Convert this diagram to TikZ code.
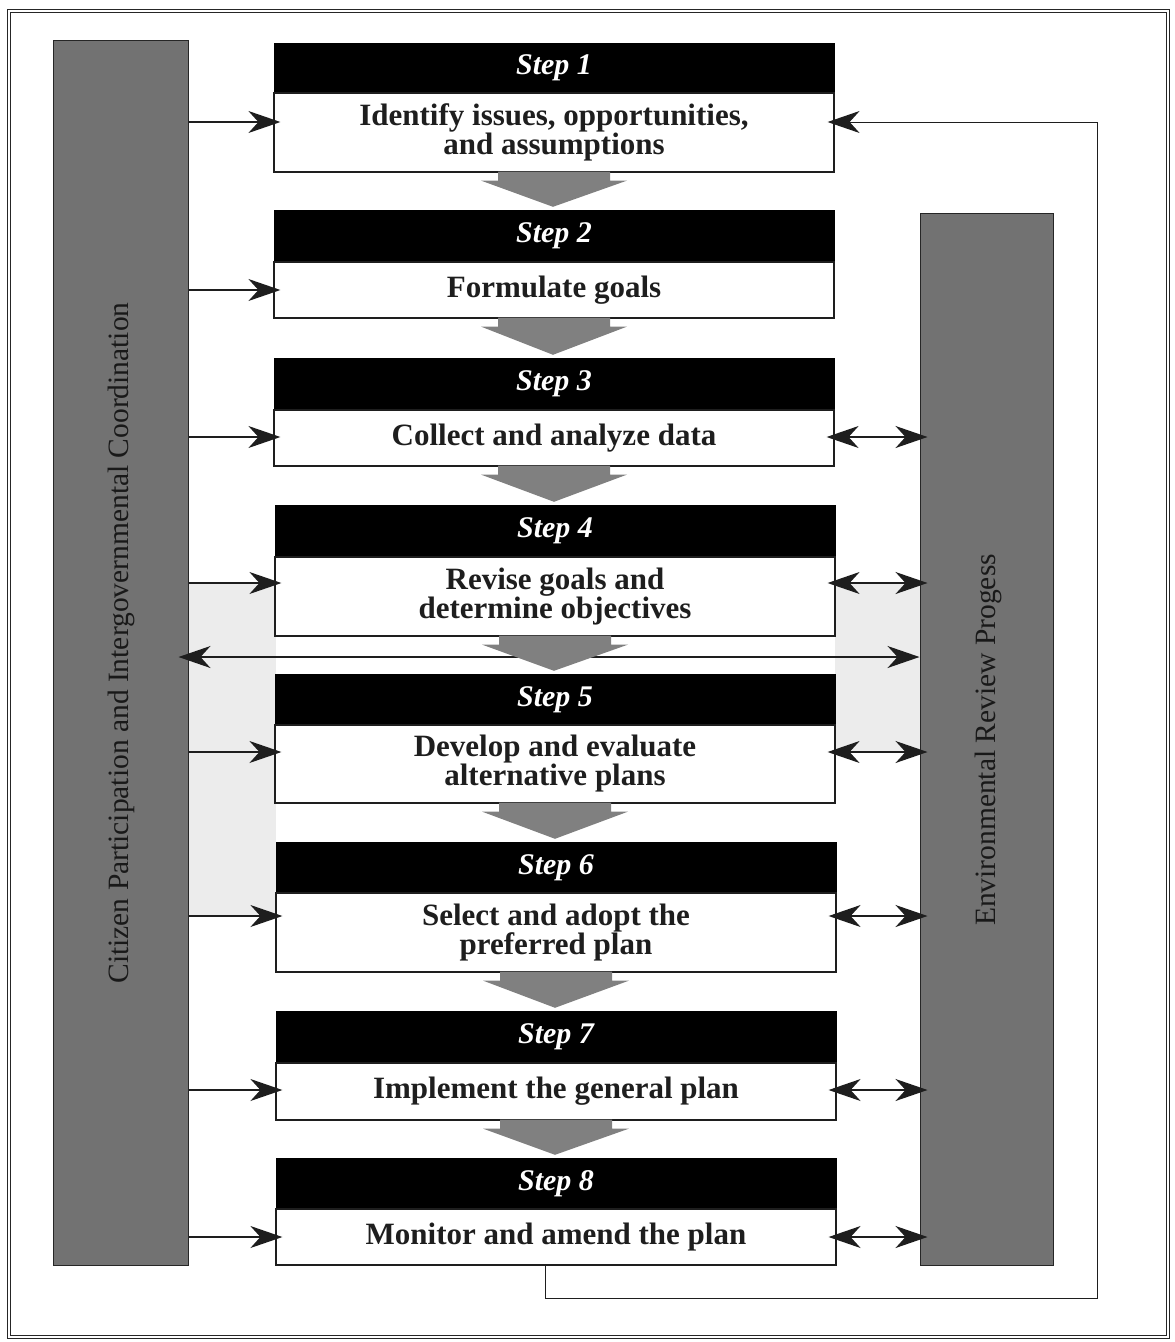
\documentclass[tikz,border=0pt]{standalone}
\usepackage{fontspec}
\setmainfont{Liberation Serif}
\usetikzlibrary{arrows.meta,calc}
\definecolor{bargray}{RGB}{114,114,114}
\definecolor{flowgray}{RGB}{128,128,128}
\definecolor{bandgray}{RGB}{236,236,236}
\definecolor{ink}{RGB}{30,30,30}
\tikzset{
  hdr/.style={fill=black, draw=black, text=white, minimum width=560pt, inner sep=0pt,
    font=\fontsize{30}{32}\selectfont\bfseries\itshape},
  bodybox/.style={fill=white, draw=ink, line width=1.2pt, minimum width=560pt, inner sep=0pt,
    align=center, text=ink, font=\fontsize{31}{29}\selectfont\bfseries},
  sidebar/.style={fill=bargray, draw=black!85, line width=1pt, inner sep=0pt},
  sidetext/.style={rotate=90, text=black!90, font=\fontsize{29.5}{32}\selectfont},
  conn/.style={line width=1.3pt, draw=ink},
  tipone/.style={conn, -{Stealth[length=32pt,width=22pt,inset=10pt]}, shorten >=-7pt},
  tiptwo/.style={conn, {Stealth[length=32pt,width=22pt,inset=10pt]}-{Stealth[length=32pt,width=22pt,inset=10pt]}, shorten >=-8pt, shorten <=-8pt},
  flowfill/.style={fill=flowgray, draw=none},
}
\newcommand\flowdown[2]{%
  \fill[flowfill] ($(#1.south)+(-56,-1)$) -- ($(#1.south)+(56,-1)$) -- ($(#1.south)+(56,8)$)
    -- ($(#1.south)+(73,8)$) -- ($(#2.north)+(-1,-3)$) -- ($(#1.south)+(-73,8)$)
    -- ($(#1.south)+(-56,8)$) -- cycle;}
\begin{document}
\begin{tikzpicture}[x=1pt,y=-1pt]
\useasboundingbox (0,0) rectangle (1175,1342);
\fill[white] (0,0) rectangle (1175,1342);
% outer frame
\draw[line width=1.1pt, draw=black!85, double=white, double distance=2.5pt] (9,11) rectangle (1168,1337);
% light bands
\fill[bandgray] (188,583) rectangle (276,916);
\fill[bandgray] (835,583) rectangle (920,752);
% side bars
\node[sidebar, minimum width=135pt, minimum height=1225pt] (lbar) at (120.5,652.5) {};
\node[sidebar, minimum width=133pt, minimum height=1052pt] (rbar) at (986.5,739) {};
\node[sidetext] (ltext) at (121,643) {Citizen Participation and Intergovernmental Coordination};
\node[sidetext] (rtext) at (988,740) {Environmental Review Progess};
% steps
\node[hdr, minimum height=50pt] (h1) at (554,68) {Step 1};
\node[bodybox, minimum height=79pt] (b1) at (554,132.5) {Identify issues, opportunities,\\and assumptions};
\node[hdr, minimum height=52pt] (h2) at (554,236) {Step 2};
\node[bodybox, minimum height=56pt] (b2) at (554,290) {Formulate goals};
\node[hdr, minimum height=52pt] (h3) at (554,384) {Step 3};
\node[bodybox, minimum height=56pt] (b3) at (554,438) {Collect and analyze data};
\node[hdr, minimum height=52pt] (h4) at (555,531) {Step 4};
\node[bodybox, minimum height=79pt] (b4) at (555,596.5) {Revise goals and\\determine objectives};
\node[hdr, minimum height=51pt] (h5) at (555,699.5) {Step 5};
\node[bodybox, minimum height=78pt] (b5) at (555,764) {Develop and evaluate\\alternative plans};
\node[hdr, minimum height=51pt] (h6) at (556,867.5) {Step 6};
\node[bodybox, minimum height=79pt] (b6) at (556,932.5) {Select and adopt the\\preferred plan};
\node[hdr, minimum height=52pt] (h7) at (556,1037) {Step 7};
\node[bodybox, minimum height=57pt] (b7) at (556,1091.5) {Implement the general plan};
\node[hdr, minimum height=51pt] (h8) at (556,1183.5) {Step 8};
\node[bodybox, minimum height=56pt] (b8) at (556,1237) {Monitor and amend the plan};
% horizontal line between steps 4 and 5
\draw[conn, {Stealth[length=32pt,width=22pt,inset=10pt]}-{Stealth[length=32pt,width=22pt,inset=10pt]}, shorten <=-10pt]
  (lbar.east |- 0,657) -- (rbar.west |- 0,657);
% flow arrows
\flowdown{b1}{h2}
\flowdown{b2}{h3}
\flowdown{b3}{h4}
\flowdown{b4}{h5}
\flowdown{b5}{h6}
\flowdown{b6}{h7}
\flowdown{b7}{h8}
% left arrows
\draw[tipone] (lbar.east |- 0,122) -- (b1.west |- 0,122);
\draw[tipone] (lbar.east |- 0,290) -- (b2.west |- 0,290);
\draw[tipone] (lbar.east |- 0,437) -- (b3.west |- 0,437);
\draw[tipone] (lbar.east |- 0,583) -- (b4.west |- 0,583);
\draw[tipone] (lbar.east |- 0,752) -- (b5.west |- 0,752);
\draw[tipone] (lbar.east |- 0,916) -- (b6.west |- 0,916);
\draw[tipone] (lbar.east |- 0,1090) -- (b7.west |- 0,1090);
\draw[tipone] (lbar.east |- 0,1237) -- (b8.west |- 0,1237);
% right double arrows
\draw[tiptwo] (b3.east |- 0,437) -- (rbar.west |- 0,437);
\draw[tiptwo] (b4.east |- 0,583) -- (rbar.west |- 0,583);
\draw[tiptwo] (b5.east |- 0,752) -- (rbar.west |- 0,752);
\draw[tiptwo] (b6.east |- 0,916) -- (rbar.west |- 0,916);
\draw[tiptwo] (b7.east |- 0,1090) -- (rbar.west |- 0,1090);
\draw[tiptwo] (b8.east |- 0,1237) -- (rbar.west |- 0,1237);
% feedback loop
\coordinate (fbcorner) at (1097,1298);
\draw[conn, line width=1pt, -{Stealth[length=32pt,width=22pt,inset=10pt]}, shorten >=-7pt]
  (b8.south -| 545,0) |- (fbcorner) |- (b1.east |- 0,122);
\end{tikzpicture}
\end{document}
